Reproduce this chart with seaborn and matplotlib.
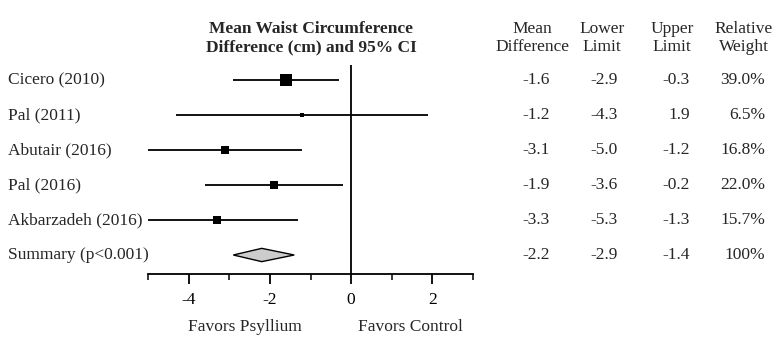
import matplotlib
matplotlib.use("Agg")
import matplotlib.pyplot as plt
import matplotlib.transforms as mtransforms
from matplotlib.ticker import MultipleLocator
import seaborn as sns
import pandas as pd

studies = ["Cicero (2010)", "Pal (2011)", "Abutair (2016)", "Pal (2016)", "Akbarzadeh (2016)"]
mean_diff = [-1.6, -1.2, -3.1, -1.9, -3.3]
lower = [-2.9, -4.3, -5.0, -3.6, -5.3]
upper = [-0.3, 1.9, -1.2, -0.2, -1.3]
weights = [39.0, 6.5, 16.8, 22.0, 15.7]
summary_label = "Summary (p<0.001)"
summary = {"mean": -2.2, "lower": -2.9, "upper": -1.4, "weight": "100%"}
x_ticks = [-4, -2, 0, 2]
col_headers = ["Mean\nDifference", "Lower\nLimit", "Upper\nLimit", "Relative\nWeight"]

sns.set_theme(style="white")
plt.rcParams["font.family"] = ["Liberation Serif", "DejaVu Serif"]

FS = 12.5
W, H = 780, 351
fig = plt.figure(figsize=(W / 100, H / 100), dpi=100)
ax = fig.add_axes([148 / W, 1 - 274 / H, 325 / W, (274 - 65) / H])

df = pd.DataFrame({"study": studies, "row": range(len(studies)), "mean": mean_diff,
                   "lower": lower, "upper": upper, "weight": weights})

ax.hlines(df["row"], df["lower"], df["upper"], color="black", lw=1.3, zorder=2)
sns.scatterplot(data=df, x="mean", y="row", size="weight", sizes=(9, 75),
                size_norm=(min(weights), max(weights)), marker="s", color="black",
                edgecolor="black", linewidth=0, legend=False, ax=ax, zorder=3)

srow = len(studies)
dh = 0.19
ax.fill([summary["lower"], summary["mean"], summary["upper"], summary["mean"]],
        [srow, srow - dh, srow, srow + dh], facecolor="#cccccc", edgecolor="black",
        lw=1.0, zorder=3)

ax.axvline(0, color="black", lw=1.3, zorder=1)

ax.set_xlim(-5, 3)
ax.set_ylim(srow + 0.543, -0.4286)
ax.set_xticks(x_ticks)
ax.set_xticklabels([str(t) for t in x_ticks])
ax.xaxis.set_minor_locator(MultipleLocator(1))
ax.set_yticks([])
ax.set_xlabel("")
ax.set_ylabel("")
for s in ["top", "left", "right"]:
    ax.spines[s].set_visible(False)
ax.spines["bottom"].set_color("black")
ax.spines["bottom"].set_linewidth(1.3)
ax.tick_params(axis="x", which="major", bottom=True, length=7, width=1.3, color="black",
               labelsize=FS, pad=6, labelcolor="black")
ax.tick_params(axis="x", which="minor", bottom=True, length=4, width=1.1, color="black")

trans = mtransforms.blended_transform_factory(fig.transFigure, ax.transData)
labels = studies + [summary_label]
for i, lab in enumerate(labels):
    ax.text(8 / W, i, lab, transform=trans, ha="left", va="center", fontsize=FS, clip_on=False)

col_right = [550, 618, 690, 765]
col_center = [532, 602, 672, 744]
fmt = lambda v: f"{v:.1f}"
for i in range(len(studies)):
    vals = [fmt(mean_diff[i]), fmt(lower[i]), fmt(upper[i]), f"{weights[i]:.1f}%"]
    for x, v in zip(col_right, vals):
        ax.text(x / W, i, v, transform=trans, ha="right", va="center", fontsize=FS, clip_on=False)
svals = [fmt(summary["mean"]), fmt(summary["lower"]), fmt(summary["upper"]), summary["weight"]]
for x, v in zip(col_right, svals):
    ax.text(x / W, srow, v, transform=trans, ha="right", va="center", fontsize=FS, clip_on=False)

for x, h in zip(col_center, col_headers):
    fig.text(x / W, 1 - 38 / H, h, ha="center", va="center", fontsize=FS, linespacing=1.2)

fig.text(311 / W, 1 - 38 / H, "Mean Waist Circumference\nDifference (cm) and 95% CI",
         ha="center", va="center", fontsize=FS, fontweight="bold", linespacing=1.2)

fig.text(302 / W, 1 - 327 / H, "Favors Psyllium", ha="right", va="center", fontsize=FS)
fig.text(358 / W, 1 - 327 / H, "Favors Control", ha="left", va="center", fontsize=FS)

fig.savefig("out.png", dpi=100, facecolor="white")
